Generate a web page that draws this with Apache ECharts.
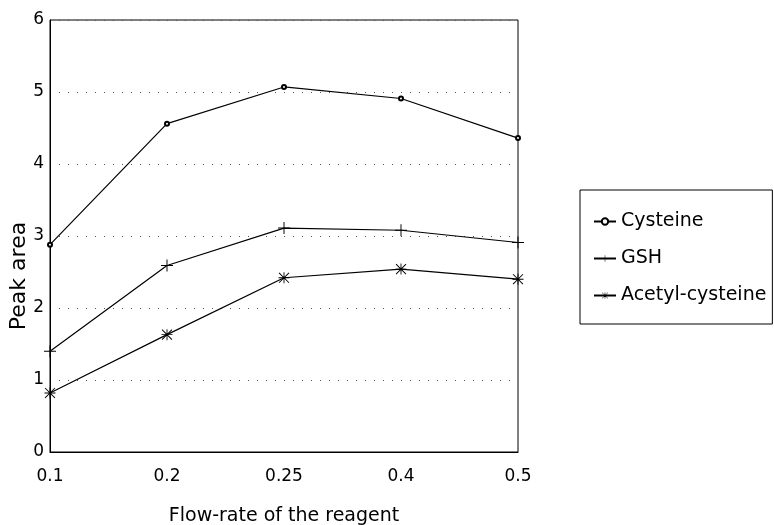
<!DOCTYPE html>
<html>
<head>
<meta charset="utf-8">
<script src="https://cdn.jsdelivr.net/npm/echarts@6/dist/echarts.min.js"></script>
<style>html,body{margin:0;padding:0;background:#fff;}#c{width:774px;height:525px;}</style>
</head>
<body>
<div id="c"></div>
<script>
var categories = ['0.1', '0.2', '0.25', '0.4', '0.5'];
var cysteine = [2.88, 4.56, 5.07, 4.91, 4.36];
var gsh = [1.40, 2.59, 3.11, 3.08, 2.91];
var acetylCysteine = [0.82, 1.63, 2.42, 2.54, 2.40];
var yTicks = [0, 1, 2, 3, 4, 5, 6];

var FONT = 'DejaVu Sans';
var plusPath = 'path://M9.2,0H10.8V20H9.2Z M0,9.2H20V10.8H0Z';
var starPath = 'path://M9.2,0H10.8V20H9.2Z M0,9.2H20V10.8H0Z M1.6,0.4L19.6,18.4L18.4,19.6L0.4,1.6Z M18.4,0.4L19.6,1.6L1.6,19.6L0.4,18.4Z';

var chart = echarts.init(document.getElementById('c'), null, {renderer: 'canvas'});
chart.setOption({
  animation: false,
  backgroundColor: '#fff',
  grid: {left: 50, right: 256, top: 20, bottom: 73, show: true, borderColor: '#000', borderWidth: 1,
         containLabel: false, outerBoundsMode: 'none'},
  legend: {
    orient: 'vertical', left: 580, top: 190,
    padding: [22, 6, 19, 13],
    itemGap: 18, itemWidth: 22, itemHeight: 8,
    borderColor: '#000', borderWidth: 1,
    textStyle: {fontFamily: FONT, fontSize: 19, color: '#000'},
    data: ['Cysteine', 'GSH', 'Acetyl-cysteine']
  },
  xAxis: {
    type: 'category', data: categories, boundaryGap: false,
    axisLine: {show: true, lineStyle: {color: '#000', width: 1}},
    axisTick: {show: false},
    axisLabel: {fontFamily: FONT, fontSize: 17, color: '#000', margin: 16},
    splitLine: {show: false},
    name: 'Flow-rate of the reagent', nameLocation: 'middle', nameGap: 55,
    nameTextStyle: {fontFamily: FONT, fontSize: 19, color: '#000'}
  },
  yAxis: {
    type: 'value', min: yTicks[0], max: yTicks[yTicks.length - 1], interval: 1,
    axisLine: {show: true, lineStyle: {color: '#000', width: 1}},
    axisTick: {show: false},
    axisLabel: {fontFamily: FONT, fontSize: 17, color: '#000', margin: 6},
    splitLine: {show: true, lineStyle: {color: '#555', width: 1, type: [1, 8]}}
  },
  graphic: [{
    type: 'text', x: 19, y: 276, rotation: Math.PI / 2,
    style: {text: 'Peak area', font: '22px "DejaVu Sans"', fill: '#000', textAlign: 'center', textVerticalAlign: 'middle'}
  }],
  series: [
    {name: 'Cysteine', type: 'line', data: cysteine, symbol: 'emptyCircle', symbolSize: 4,
     lineStyle: {color: '#000', width: 1.2}, itemStyle: {color: '#000', borderColor: '#000', borderWidth: 1}},
    {name: 'GSH', type: 'line', data: gsh, symbol: plusPath, symbolSize: 12,
     lineStyle: {color: '#000', width: 1.2}, itemStyle: {color: '#000'}},
    {name: 'Acetyl-cysteine', type: 'line', data: acetylCysteine, symbol: starPath, symbolSize: 11,
     lineStyle: {color: '#000', width: 1.2}, itemStyle: {color: '#000'}}
  ]
});
</script>
</body>
</html>
